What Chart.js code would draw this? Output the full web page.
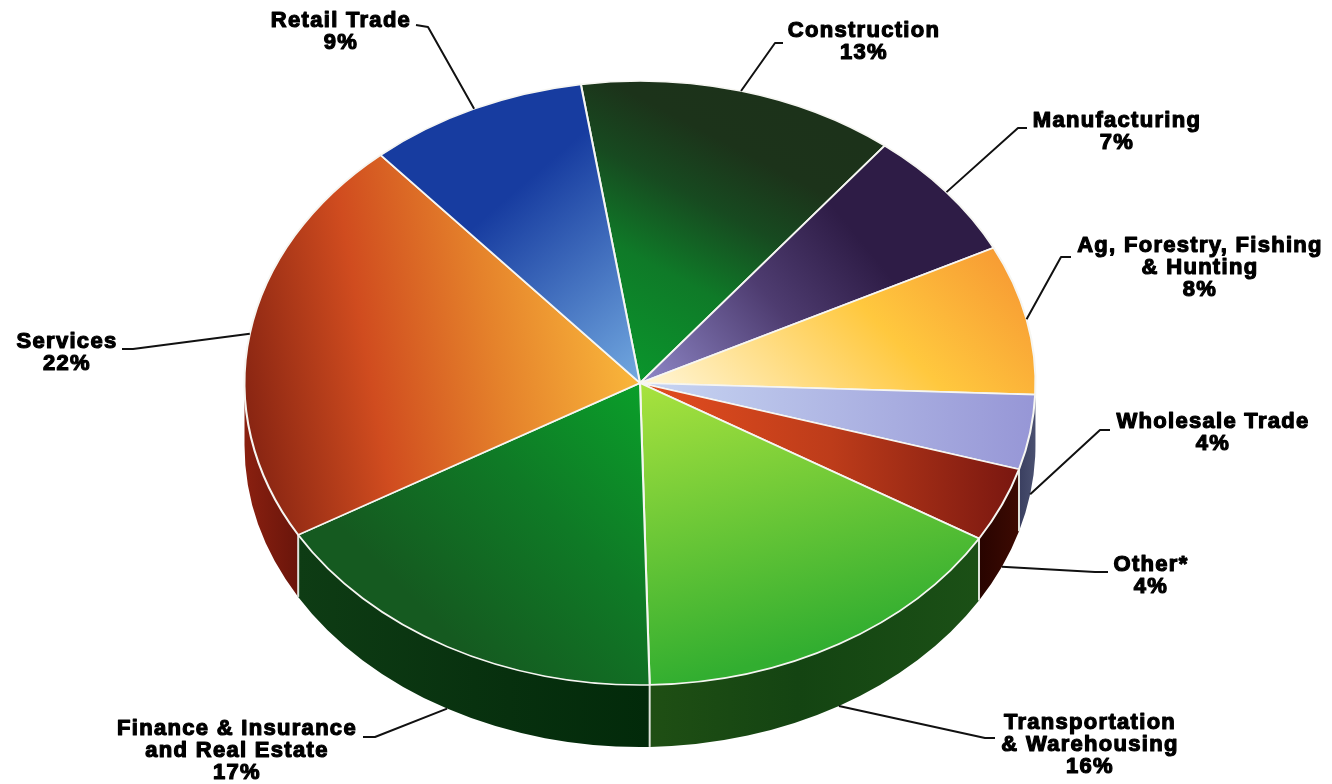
<!DOCTYPE html>
<html>
<head>
<meta charset="utf-8">
<style>html,body{margin:0;padding:0;background:#fff}canvas{display:block}</style>
<script src="https://cdn.jsdelivr.net/npm/chart.js@4"></script>
</head>
<body>
<canvas id="c" width="1332" height="784"></canvas>
<script>
const categories = ["Construction","Manufacturing","Ag, Forestry, Fishing\n& Hunting","Wholesale Trade","Other*","Transportation\n& Warehousing","Finance & Insurance\nand Real Estate","Services","Retail Trade"];
const shares = [13,7,8,4,4,16,17,22,9];
const startRotation = -8.6;

// Styling (pie-unit coordinates: -1..1 around the pie centre)
const topFills = [
  {p:[0,0,.55,-.8], s:[[0,'#0a962c'],[.35,'#0f7a28'],[.6,'#174a20'],[.8,'#1c331a'],[1,'#1c321a']]},
  {p:[0,0,.72,-.45], s:[[0,'#8f88c8'],[.5,'#4e3c70'],[.85,'#2e1c46'],[1,'#2e1c46']]},
  {p:[0,0,.8,-.6], s:[[0,'#fff6d8'],[.6,'#ffc83e'],[1,'#f79a33']]},
  {p:[0,0,1,0], s:[[0,'#c8d6f2'],[1,'#9696d6']]},
  {p:[.1,0,.95,0], s:[[0,'#dc4a1e'],[.45,'#bd3c1a'],[1,'#7a1710']]},
  {p:[.02,0,.32,.92], s:[[0,'#a8e23e'],[1,'#32ae30']]},
  {p:[-.7,.55,.02,0], s:[[0,'#155a20'],[.5,'#0f7a26'],[1,'#0aa02a']]},
  {p:[-1,.1,-.03,-.03], s:[[0,'#872412'],[.34,'#d04c1f'],[.67,'#e5822b'],[1,'#f8b33a']]},
  {p:[-.55,-.5,-.01,-.02], s:[[0,'#173ca0'],[.12,'#173ca0'],[1,'#70a6de']]}
];
const wallFills = [
  null, null,
  [[0,'#3e4468'],[1,'#3e4468']],
  [[0,'#3a3f60'],[1,'#4a5070']],
  [[0,'#280400'],[1,'#3d0a02']],
  [[0,'#1f4f14'],[.45,'#144412'],[1,'#1b5016']],
  [[0,'#0e3c14'],[.6,'#07300e'],[1,'#022a0a']],
  [[0,'#8a2010'],[1,'#6a150b']],
  null
];
const labelLayout = [
  {cx:864, y:31, elbow:[775,43], end:[783,43]},
  {cx:1117,y:121,elbow:[1018,128],end:[1027,128]},
  {cx:1200,y:246,elbow:[1061,257],end:[1071,257]},
  {cx:1213,y:422,elbow:[1100,430],end:[1110,430]},
  {cx:1151,y:565,elbow:[1095,572],end:[1108,572]},
  {cx:1090,y:723,elbow:[985,738],end:[995,738]},
  {cx:237, y:729,elbow:[375,737],end:[363,737]},
  {cx:67,  y:342,elbow:[133,349],end:[122,349]},
  {cx:341, y:21, elbow:[428,27],end:[416,25]}
];
const RX = 395.5, RY = 302, DEPTH = 62, LINE = 22;

function topFill(c){
  const f = topFills[c.dataIndex], a = c.chart.chartArea;
  if(!a) return '#888';
  const cx=(a.left+a.right)/2, cy=(a.top+a.bottom)/2, R=Math.min(a.width,a.height)/2;
  const g=c.chart.ctx.createLinearGradient(cx+f.p[0]*R,cy+f.p[1]*R,cx+f.p[2]*R,cy+f.p[3]*R);
  f.s.forEach(s=>g.addColorStop(s[0],s[1]));
  return g;
}

const pie3d = {
  id:'pie3d',
  beforeDatasetsDraw(chart){
    const ctx=chart.ctx, arcs=chart.getDatasetMeta(0).data, cx=arcs[0].x, cy=arcs[0].y;
    // side walls for the front half
    arcs.forEach((arc,i)=>{
      const a=Math.max(arc.startAngle,0), b=Math.min(arc.endAngle,Math.PI);
      if(b<=a||!wallFills[i]) return;
      const x0=cx+RX*Math.cos(b), x1=cx+RX*Math.cos(a);
      const g=ctx.createLinearGradient(x0,0,x1,0);
      wallFills[i].forEach(s=>g.addColorStop(s[0],s[1]));
      ctx.beginPath();
      ctx.ellipse(cx,cy,RX,RY,0,a,b);
      ctx.ellipse(cx,cy+DEPTH,RX,RY,0,b,a,true);
      ctx.closePath();
      ctx.fillStyle=g; ctx.fill();
    });
    arcs.forEach(arc=>{
      const t=arc.endAngle;
      if(t<=0.15||t>=Math.PI+1.1) return;
      const x=cx+RX*Math.cos(t), y=cy+RY*Math.sin(t);
      ctx.beginPath();ctx.moveTo(x,y);ctx.lineTo(x,y+DEPTH);
      ctx.strokeStyle='#dfe3dc';ctx.lineWidth=2;ctx.stroke();
    });
    const R=arcs[0].outerRadius;
    ctx.save();
    ctx.translate(cx,cy);ctx.scale(RX/R,RY/R);ctx.translate(-cx,-cy);
  },
  afterDatasetsDraw(chart){
    const ctx=chart.ctx, arcs=chart.getDatasetMeta(0).data, cx=arcs[0].x, cy=arcs[0].y;
    ctx.restore();
    ctx.font='bold 22px "Liberation Sans"';
    ctx.letterSpacing='1.3px';
    ctx.textAlign='center';ctx.textBaseline='middle';
    ctx.lineJoin='round';
    arcs.forEach((arc,i)=>{
      const L=labelLayout[i], mid=(arc.startAngle+arc.endAngle)/2;
      let ax=cx+RX*Math.cos(mid), ay=cy+RY*Math.sin(mid);
      if(Math.sin(mid)>0) ay+=DEPTH;
      ctx.beginPath();ctx.moveTo(ax,ay);ctx.lineTo(L.elbow[0],L.elbow[1]);ctx.lineTo(L.end[0],L.end[1]);
      ctx.strokeStyle='#111';ctx.lineWidth=2;ctx.stroke();
      const lines=categories[i].split('\n').concat(shares[i]+'%');
      ctx.fillStyle='#000';ctx.strokeStyle='#000';ctx.lineWidth=1.2;
      lines.forEach((t,k)=>{
        ctx.strokeText(t,L.cx,L.y+k*LINE);
        ctx.fillText(t,L.cx,L.y+k*LINE);
      });
    });
  }
};

new Chart(document.getElementById('c'),{
  type:'pie',
  data:{labels:categories,datasets:[{
    data:shares,
    backgroundColor:topFill,
    borderColor:'#f6f6f2',
    borderWidth:2,
    clip:false
  }]},
  options:{
    responsive:false,
    animation:false,
    rotation:startRotation,
    layout:{padding:{right:52,bottom:18}},
    plugins:{legend:{display:false},tooltip:{enabled:false}}
  },
  plugins:[pie3d]
});
</script>
</body>
</html>
